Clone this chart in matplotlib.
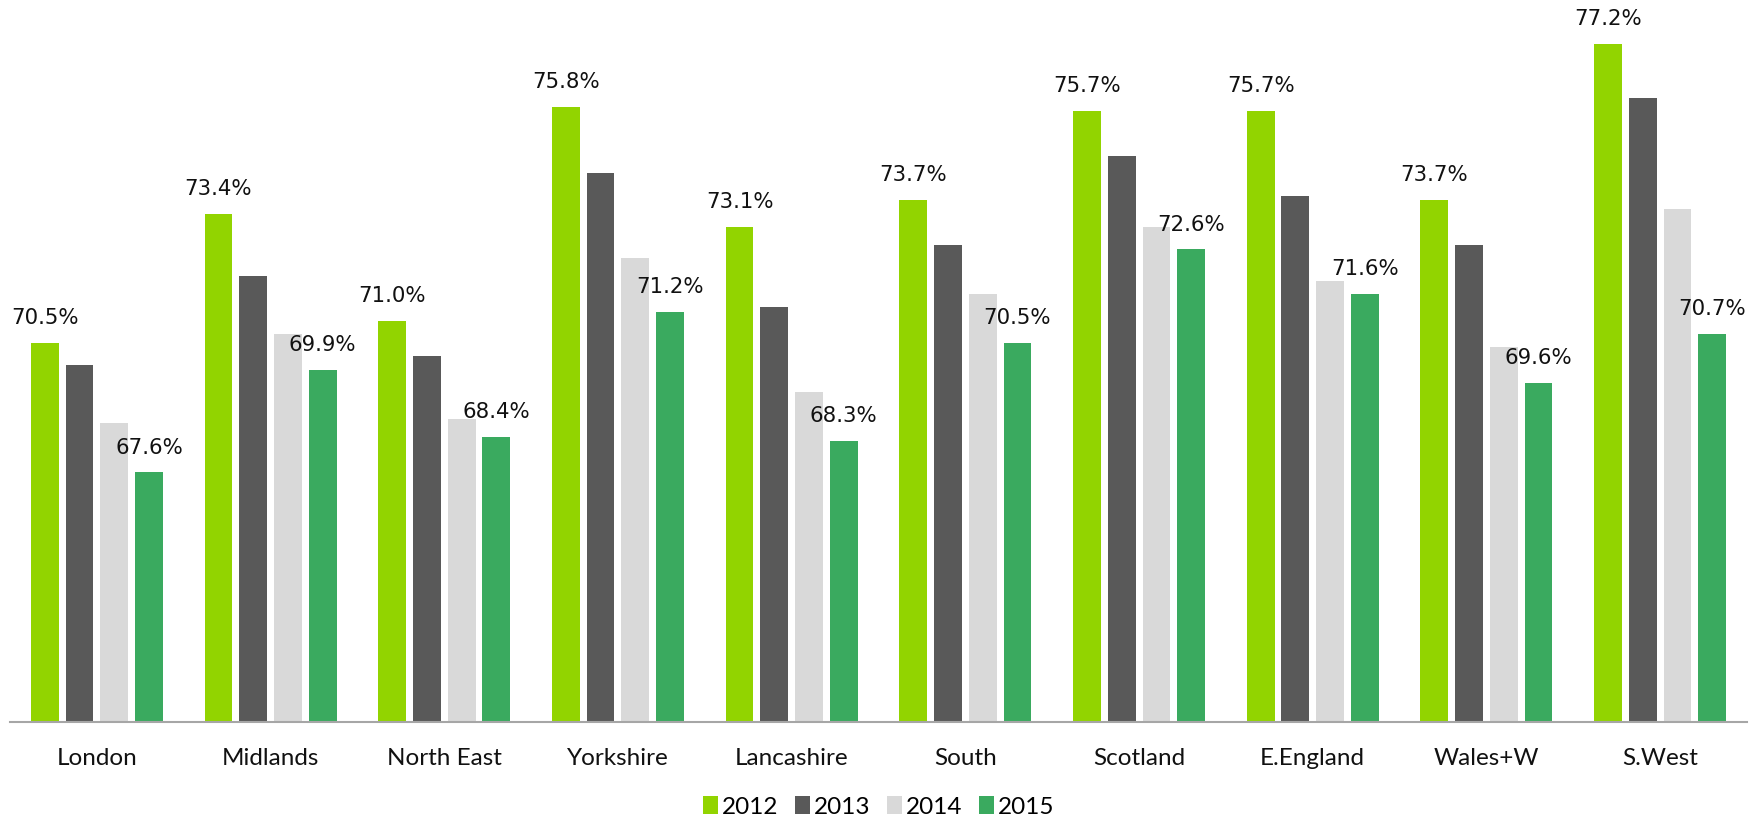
import numpy as np
import matplotlib.pyplot as plt
from matplotlib.patches import Patch

# Regions and yearly shares (%)
regions = ['London', 'Midlands', 'North East', 'Yorkshire', 'Lancashire',
           'South', 'Scotland', 'E.England', 'Wales+W', 'S.West']
years = ['2012', '2013', '2014', '2015']
v2012 = [70.5, 73.4, 71.0, 75.8, 73.1, 73.7, 75.7, 75.7, 73.7, 77.2]
v2013 = [70.0, 72.0, 70.2, 74.3, 71.3, 72.7, 74.7, 73.8, 72.7, 76.0]
v2014 = [68.7, 70.7, 68.8, 72.4, 69.4, 71.6, 73.1, 71.9, 70.4, 73.5]
v2015 = [67.6, 69.9, 68.4, 71.2, 68.3, 70.5, 72.6, 71.6, 69.6, 70.7]

series = [v2012, v2013, v2014, v2015]
colors = ['#92D400', '#595959', '#D9D9D9', '#3AAA5F']
labelled = [True, False, False, True]

fig = plt.figure(figsize=(17.58, 8.18), dpi=100)
ax = fig.add_axes([10 / 1758, 96 / 818, 1737 / 1758, 722 / 818])

x = np.arange(len(regions))
step = 0.2
for i, (vals, col) in enumerate(zip(series, colors)):
    pos = x + (i - 1.5) * step
    ax.bar(pos, vals, width=0.16, color=col, linewidth=0, zorder=2)
    if labelled[i]:
        for px, v in zip(pos, vals):
            ax.annotate(f'{v:.1f}%', (px, v), xytext=(0, 13.5),
                        textcoords='offset points', ha='center',
                        va='baseline', fontsize=15.3, family='DejaVu Sans',
                        color='#111111')

ax.set_xlim(-0.5, len(regions) - 0.5)
ax.set_ylim(62, 78.19)
ax.set_yticks([])
for s in ['top', 'right', 'left']:
    ax.spines[s].set_visible(False)
ax.spines['bottom'].set_color('#A6A6A6')
ax.spines['bottom'].set_linewidth(1.5)
ax.spines['bottom'].set_zorder(3)

ax.set_xticks(x)
ax.set_xticklabels(regions, family='Lato', fontsize=17.5, color='#111111')
ax.tick_params(axis='x', length=0, pad=19)

handles = [Patch(facecolor=c, edgecolor='none', label=y)
           for c, y in zip(colors, years)]
fig.legend(handles=handles, loc='center', bbox_to_anchor=(0.5, 11 / 818),
           ncol=4, frameon=False, prop={'family': 'Lato', 'size': 17.5},
           handlelength=0.6, handleheight=0.7, handletextpad=0.18,
           columnspacing=0.68, borderpad=0, borderaxespad=0)

fig.savefig('out.png', dpi=100)
